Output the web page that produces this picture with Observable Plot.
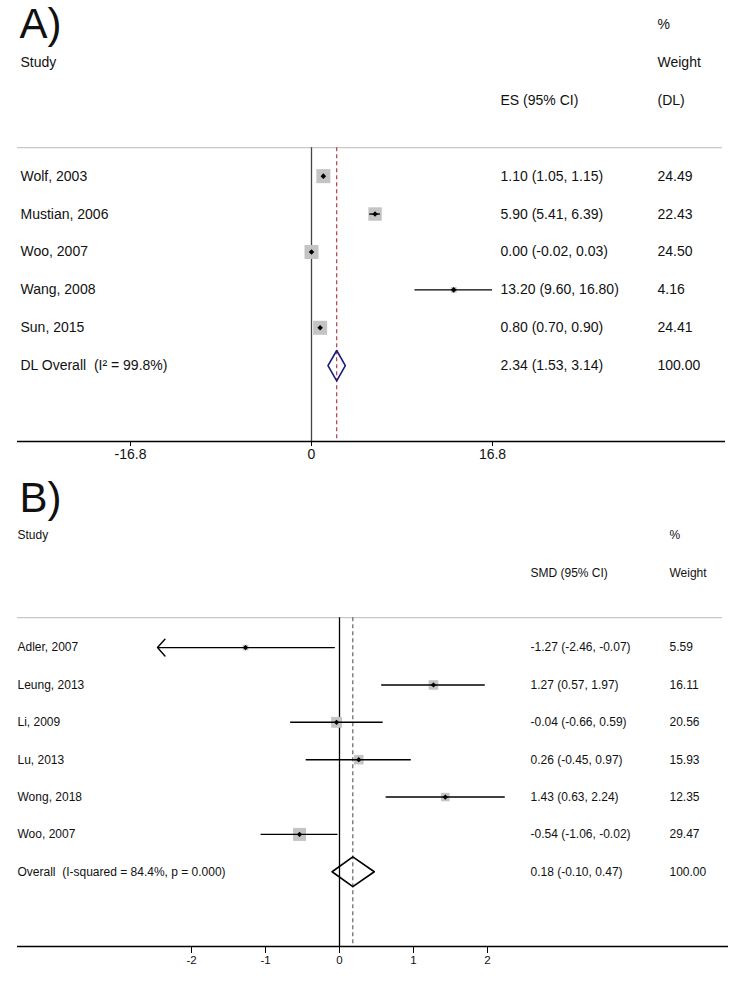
<!DOCTYPE html>
<html>
<head>
<meta charset="utf-8">
<script src="https://cdn.jsdelivr.net/npm/d3@7"></script>
<script src="https://cdn.jsdelivr.net/npm/@observablehq/plot@0.6"></script>
<style>
  body { margin: 0; background: #fff; }
  #chart svg { display: block; }
</style>
</head>
<body>
<div id="chart"></div>
<script>
// ---------- Panel A data ----------
const studiesA = ["Wolf, 2003", "Mustian, 2006", "Woo, 2007", "Wang, 2008", "Sun, 2015"];
const esA      = [1.10, 5.90, 0.00, 13.20, 0.80];
const lowA     = [1.05, 5.41, -0.02, 9.60, 0.70];
const highA    = [1.15, 6.39, 0.03, 16.80, 0.90];
const weightA  = [24.49, 22.43, 24.50, 4.16, 24.41];
const overallLabelA = "DL Overall\u00a0 (I² = 99.8%)";
const overallEsA = 2.34, overallLowA = 1.53, overallHighA = 3.14, overallWeightA = 100.00;
const ticksA = [-16.8, 0, 16.8];

// ---------- Panel B data ----------
const studiesB = ["Adler, 2007", "Leung, 2013", "Li, 2009", "Lu, 2013", "Wong, 2018", "Woo, 2007"];
const esB      = [-1.27, 1.27, -0.04, 0.26, 1.43, -0.54];
const lowB     = [-2.46, 0.57, -0.66, -0.45, 0.63, -1.06];
const highB    = [-0.07, 1.97, 0.59, 0.97, 2.24, -0.02];
const weightB  = [5.59, 16.11, 20.56, 15.93, 12.35, 29.47];
const clippedB = [true, false, false, false, false, false];
const overallLabelB = "Overall\u00a0 (I-squared = 84.4%, p = 0.000)";
const overallEsB = 0.18, overallLowB = -0.10, overallHighB = 0.47, overallWeightB = 100.00;
const ticksB = [-2, -1, 0, 1, 2];

const fmt = v => v.toFixed(2);
const ciText = d => `${fmt(d.es)} (${fmt(d.low)}, ${fmt(d.high)})`;
const FONT = "'Liberation Sans', Arial, Helvetica, sans-serif";
const NARROW = "'Liberation Sans Narrow', 'Liberation Sans', Arial, sans-serif";

function buildRows(studies, es, low, high, weight, startRow, clipped) {
  return studies.map((s, i) => ({
    study: s, es: es[i], low: low[i], high: high[i], weight: weight[i],
    clipped: clipped ? clipped[i] : false, row: startRow + i
  }));
}
function diamond(es, low, high, row, h) {
  return [
    {x: low, y: row}, {x: es, y: row - h}, {x: high, y: row},
    {x: es, y: row + h}, {x: low, y: row}
  ];
}

// ---------- Panel A ----------
const rowsA = buildRows(studiesA, esA, lowA, highA, weightA, 4);
const ovA = {study: overallLabelA, es: overallEsA, low: overallLowA, high: overallHighA, weight: overallWeightA, row: 9};
const tableA = [...rowsA, ovA];
const sizeA = 14;

const plotA = Plot.plot({
  width: 746, height: 470,
  marginLeft: 17, marginRight: 21, marginTop: 0, marginBottom: 29,
  style: {fontFamily: FONT, color: "#111", background: "#fff"},
  x: {domain: [ticksA[0], ticksA[ticksA.length - 1]], range: [130, 492]},
  y: {domain: [0, 11], range: [24, 441], axis: null},
  r: {type: "sqrt", domain: [0, 30], range: [0, 8.76]},
  marks: [
    Plot.text(["A)"], {frameAnchor: "left", y: 0, dx: 2, text: d => d, fontSize: 42, fontFamily: NARROW}),
    Plot.text(["Study"], {frameAnchor: "left", y: 1, dx: 3, text: d => d, fontSize: sizeA}),
    Plot.text(["ES (95% CI)"], {frameAnchor: "left", y: 2, dx: 483, text: d => d, fontSize: sizeA}),
    Plot.text(["%", "Weight", "(DL)"], {frameAnchor: "left", y: (d, i) => i, dx: 640, text: d => d, fontSize: sizeA}),
    Plot.ruleY([3.25], {stroke: "#c8c8c8", strokeWidth: 1.2, insetRight: 3}),
    Plot.ruleX([0], {y1: 3.25, y2: 11, stroke: "#444", strokeWidth: 1.3}),
    Plot.ruleX([overallEsA], {y1: 3.25, y2: 11, stroke: "#b0283c", strokeWidth: 1.1, strokeDasharray: "4,3"}),
    Plot.dot(rowsA, {x: "es", y: "row", r: "weight", symbol: "square", fill: "#c4c4c4", stroke: null}),
    Plot.ruleY(rowsA, {y: "row", x1: "low", x2: "high", stroke: "#000", strokeWidth: 1.4}),
    Plot.dot(rowsA, {x: "es", y: "row", symbol: "diamond2", r: 2.5, fill: "#000", stroke: null}),
    Plot.line(diamond(overallEsA, overallLowA, overallHighA, 9, 0.4), {x: "x", y: "y", stroke: "#1c1c78", strokeWidth: 1.6}),
    Plot.text(tableA, {frameAnchor: "left", y: "row", dx: 3, text: "study", fontSize: sizeA}),
    Plot.text(tableA, {frameAnchor: "left", y: "row", dx: 483, text: ciText, fontSize: sizeA}),
    Plot.text(tableA, {frameAnchor: "left", y: "row", dx: 640, text: d => fmt(d.weight), fontSize: sizeA}),
    Plot.ruleY([11], {stroke: "#000", strokeWidth: 1.3}),
    Plot.axisX(ticksA, {tickSize: 5, tickPadding: 3, fontSize: 14, tickFormat: d => String(d), stroke: "#000"})
  ]
});

// ---------- Panel B ----------
const rowsB = buildRows(studiesB, esB, lowB, highB, weightB, 3, clippedB);
const ovB = {study: overallLabelB, es: overallEsB, low: overallLowB, high: overallHighB, weight: overallWeightB, row: 9};
const tableB = [...rowsB, ovB];
const sizeB = 12;

const plotB = Plot.plot({
  width: 746, height: 522,
  marginLeft: 17, marginRight: 18, marginTop: 0, marginBottom: 46,
  style: {fontFamily: FONT, color: "#111", background: "#fff"},
  x: {domain: [ticksB[0], ticksB[ticksB.length - 1]], range: [191, 487]},
  y: {domain: [0, 11], range: [65, 476], axis: null},
  r: {type: "sqrt", domain: [0, 30], range: [0, 7.4]},
  marks: [
    Plot.text(["B)"], {frameAnchor: "left", y: -1, dx: 2, text: d => d, fontSize: 42, fontFamily: NARROW}),
    Plot.text(["Study"], {frameAnchor: "left", y: 0, dx: 0, text: d => d, fontSize: sizeB}),
    Plot.text(["SMD (95% CI)"], {frameAnchor: "left", y: 1, dx: 513, text: d => d, fontSize: sizeB}),
    Plot.text(["%", "Weight"], {frameAnchor: "left", y: (d, i) => i, dx: 652, text: d => d, fontSize: sizeB}),
    Plot.ruleY([2.2], {stroke: "#c8c8c8", strokeWidth: 1.2, insetRight: 6}),
    Plot.ruleX([0], {y1: 2.2, y2: 11, stroke: "#000", strokeWidth: 1.3}),
    Plot.ruleX([overallEsB], {y1: 2.2, y2: 11, stroke: "#555", strokeWidth: 1.1, strokeDasharray: "4,3"}),
    Plot.dot(rowsB, {x: "es", y: "row", r: "weight", symbol: "square", fill: "#c4c4c4", stroke: null}),
    Plot.ruleY(rowsB.filter(d => !d.clipped), {y: "row", x1: "low", x2: "high", stroke: "#000", strokeWidth: 1.4}),
    Plot.arrow(rowsB.filter(d => d.clipped), {x1: "high", x2: "low", y1: "row", y2: "row", stroke: "#000", strokeWidth: 1.4, headLength: 12, headAngle: 96}),
    Plot.dot(rowsB, {x: "es", y: "row", symbol: "diamond2", r: 2.4, fill: "#000", stroke: null}),
    Plot.line(diamond(overallEsB, overallLowB, overallHighB, 9, 0.4), {x: "x", y: "y", stroke: "#000", strokeWidth: 1.6}),
    Plot.text(tableB, {frameAnchor: "left", y: "row", dx: 0, text: "study", fontSize: sizeB}),
    Plot.text(tableB, {frameAnchor: "left", y: "row", dx: 513, text: ciText, fontSize: sizeB}),
    Plot.text(tableB, {frameAnchor: "left", y: "row", dx: 652, text: d => fmt(d.weight), fontSize: sizeB}),
    Plot.ruleY([11], {stroke: "#000", strokeWidth: 1.3}),
    Plot.axisX(ticksB, {tickSize: 7, tickPadding: 2, fontSize: 11.5, tickFormat: d => String(d), stroke: "#000"})
  ]
});

document.getElementById("chart").append(plotA, plotB);
</script>
</body>
</html>
